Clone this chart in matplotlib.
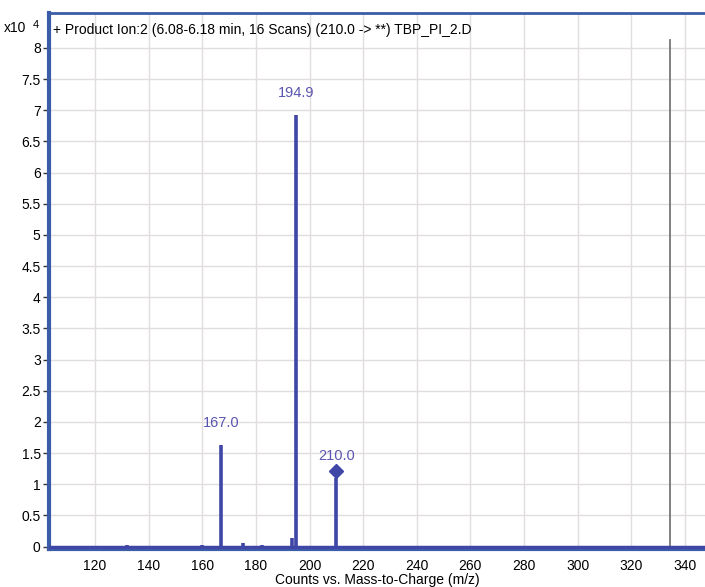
import matplotlib
matplotlib.use("Agg")
import matplotlib.pyplot as plt
import numpy as np

plt.rcParams['font.family'] = ['Liberation Sans', 'DejaVu Sans']

# spectrum (counts in units of 1e4)
mz = [132.0, 160.0, 167.0, 175.2, 182.3, 193.6, 194.9, 210.0]
counts = [0.03, 0.02, 1.63, 0.05, 0.02, 0.13, 6.92, 1.10]
labelled = [167.0, 194.9, 210.0]
precursor_mz = 210.0
precursor_y = 1.22
divider_mz = 334.5

title = "+ Product Ion:2 (6.08-6.18 min, 16 Scans) (210.0 -> **) TBP_PI_2.D"
xticks = np.arange(120, 341, 20)
yticks = np.arange(0, 8.01, 0.5)

stem_col = '#3f46a6'
label_col = '#5a55b0'
spine_col = '#3b5ca8'

fig = plt.figure(figsize=(7.05, 5.87), dpi=100)
ax = fig.add_axes([0.0695, 0.0647, 0.9305, 0.913])

ax.vlines(mz, 0, counts, color=stem_col, linewidth=2.6, zorder=3)
ax.plot([precursor_mz], [precursor_y], marker='D', color=stem_col,
        markersize=7, zorder=4)
for m, c in zip(mz, counts):
    if m in labelled:
        ax.annotate(f"{m:.1f}", (m, c), xytext=(0, 11), textcoords='offset points',
                    ha='center', va='bottom', fontsize=10.5, color=label_col)

ax.axvline(divider_mz, ymin=0, ymax=0.95, color='#777777', linewidth=1.3, zorder=2)
ax.axhline(0, color=stem_col, linewidth=2.5, zorder=3)

ax.set_xlim(102.8, 347.5)
ax.set_ylim(-0.04, 8.56)
ax.set_xticks(xticks)
ax.set_yticks(yticks)
ax.set_yticklabels([f"{v:g}" for v in yticks])
ax.grid(True, color='#e2dede', linewidth=1.0, zorder=0)
ax.set_axisbelow(True)
ax.tick_params(axis='both', labelsize=10, length=4, width=1, color='#333333',
               direction='out', pad=2)
ax.tick_params(axis='x', length=0, pad=7)

for side in ['left', 'top', 'bottom']:
    ax.spines[side].set_color(spine_col)
ax.spines['left'].set_linewidth(3)
ax.spines['top'].set_linewidth(2)
ax.spines['bottom'].set_linewidth(3)
ax.spines['right'].set_visible(False)

ax.text(0.006, 0.982, title, transform=ax.transAxes, ha='left', va='top', fontsize=10)
fig.text(0.005, 0.952, "x10", ha='left', va='center', fontsize=10)
fig.text(0.046, 0.958, "4", ha='left', va='center', fontsize=8)

ax.set_xlabel("Counts vs. Mass-to-Charge (m/z)", fontsize=10, labelpad=0)

fig.savefig("out.png", dpi=100)
